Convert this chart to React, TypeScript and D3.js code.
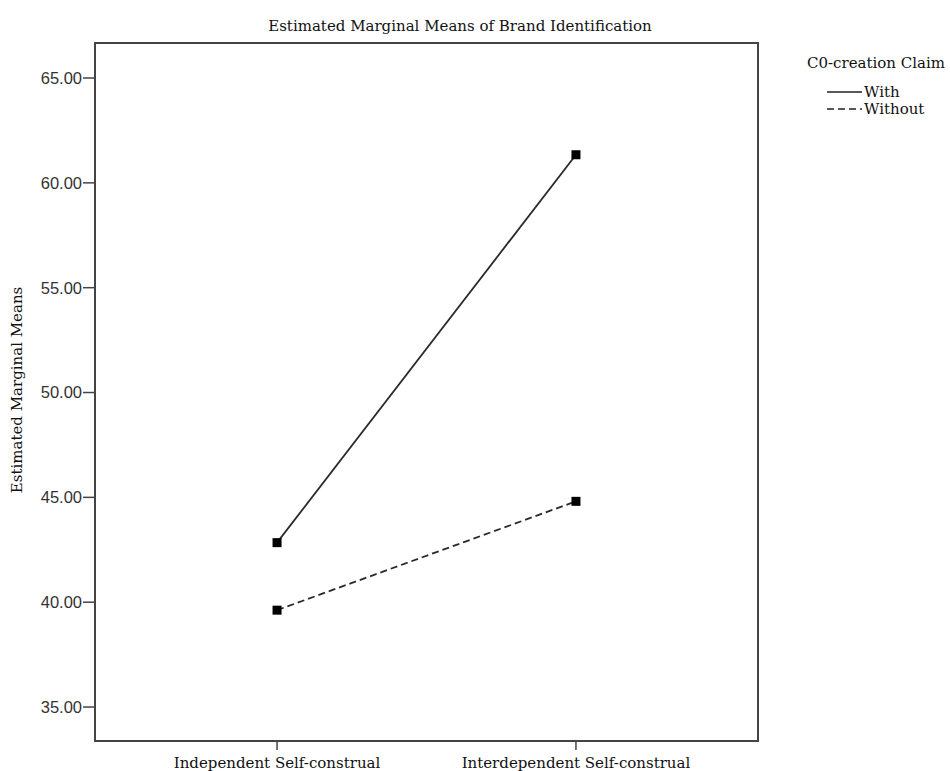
import React from 'react';
import * as d3 from 'd3';

const categories = ['Independent Self-construal', 'Interdependent Self-construal'];
const withValues = [42.84, 61.34];
const withoutValues = [39.62, 44.81];
const yTicks = [35, 40, 45, 50, 55, 60, 65];
const seriesNames = ['With', 'Without'];

const W = 950;
const H = 771;
const left = 95;
const right = 758;
const top = 43;
const bottom = 741;

export default function App() {
  const x = d3.scalePoint<string>().domain(categories).range([left, right]).padding(0.609);
  const y = d3.scaleLinear().domain([33.38, 66.67]).range([bottom, top]);

  const line = d3.line<number>()
    .x((d, i) => x(categories[i]) as number)
    .y((d) => y(d));

  const series = [
    { name: seriesNames[0], values: withValues, dash: undefined },
    { name: seriesNames[1], values: withoutValues, dash: '7,4' },
  ];

  const serif = '"DejaVu Serif", serif';
  const sans = '"Liberation Sans", Arial, sans-serif';

  return (
    <svg width={W} height={H} style={{ position: 'absolute', left: 0, top: 0 }}>
      <rect width={W} height={H} fill="#fff" />
      <text x={460} y={31} textAnchor="middle" fontFamily={serif} fontSize={15} fill="#111">
        Estimated Marginal Means of Brand Identification
      </text>

      <rect x={left} y={top} width={right - left} height={bottom - top} fill="none" stroke="#444" strokeWidth={2} />

      {yTicks.map((t) => (
        <g key={t}>
          <line x1={left - 12} x2={left} y1={y(t)} y2={y(t)} stroke="#444" strokeWidth={1.5} />
          <text x={left - 13} y={y(t)} dy="0.36em" textAnchor="end" fontFamily={sans} fontSize={16.5} fill="#333">
            {t.toFixed(2)}
          </text>
        </g>
      ))}

      {categories.map((c) => (
        <g key={c}>
          <line x1={x(c)} x2={x(c)} y1={bottom} y2={bottom + 9} stroke="#444" strokeWidth={1.5} />
          <text x={x(c)} y={768} textAnchor="middle" fontFamily={serif} fontSize={15} fill="#111">
            {c}
          </text>
        </g>
      ))}

      <text
        transform={`translate(22,${390}) rotate(-90)`}
        textAnchor="middle"
        fontFamily={serif}
        fontSize={15}
        fill="#111"
      >
        Estimated Marginal Means
      </text>

      {series.map((s) => (
        <g key={s.name}>
          <path d={line(s.values) || ''} fill="none" stroke="#2a2a2a" strokeWidth={1.8} strokeDasharray={s.dash} />
          {s.values.map((v, i) => (
            <rect key={i} x={(x(categories[i]) as number) - 4.5} y={y(v) - 4.5} width={9} height={9} fill="#000" />
          ))}
        </g>
      ))}

      <text x={807} y={68} fontFamily={serif} fontSize={15} fill="#111">C0-creation Claim</text>
      {series.map((s, i) => (
        <g key={s.name}>
          <line x1={827} x2={862} y1={92 + i * 17} y2={92 + i * 17} stroke="#222" strokeWidth={1.6} strokeDasharray={s.dash} />
          <text x={864} y={92 + i * 17} dy="0.35em" fontFamily={serif} fontSize={15} fill="#111">{s.name}</text>
        </g>
      ))}
    </svg>
  );
}
